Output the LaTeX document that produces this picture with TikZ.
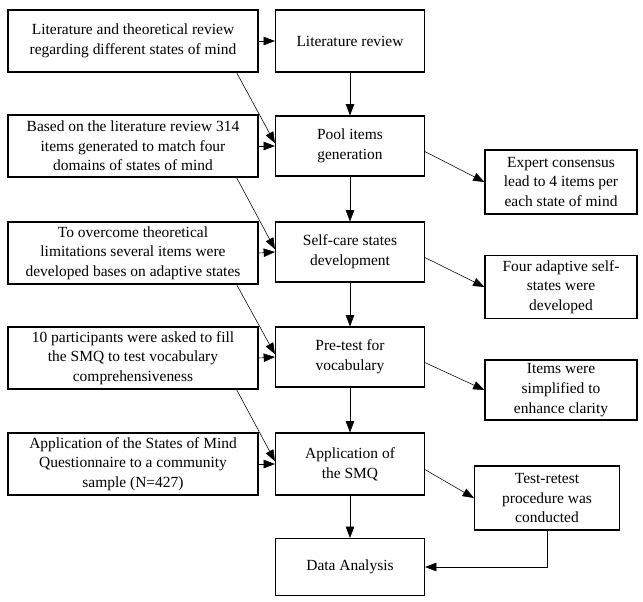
\documentclass[tikz,border=0pt]{standalone}
\usepackage{fontspec}
\setmainfont{Liberation Serif}
\usetikzlibrary{arrows.meta}
\begin{document}
\begin{tikzpicture}[x=0.025cm,y=-0.025cm]
        \tikzstyle{caixa}=[draw=black, thick, align=center, font=\fontsize{11}{14}\selectfont, inner sep=2pt]
        \tikzstyle{seta}=[-{Triangle[length=8pt,width=6pt]}, thin]

        \useasboundingbox (0,0) rectangle (643,601);

        % left column
        \node[caixa, minimum width=6.25cm, minimum height=1.55cm] (L1) at (133,41) {Literature and theoretical review\\regarding different states of mind};
        \node[caixa, minimum width=6.25cm, minimum height=1.55cm] (L2) at (133,146) {Based on the literature review 314\\items generated to match four\\domains of states of mind};
        \node[caixa, minimum width=6.25cm, minimum height=1.55cm] (L3) at (133,253) {To overcome theoretical\\limitations several items were\\developed bases on adaptive states};
        \node[caixa, minimum width=6.25cm, minimum height=1.55cm] (L4) at (133,358) {10 participants were asked to fill\\the SMQ to test vocabulary\\comprehensiveness};
        \node[caixa, minimum width=6.25cm, minimum height=1.55cm] (L5) at (133,464) {Application of the States of Mind\\Questionnaire to a community\\sample (N=427)};

        % middle column
        \node[caixa, minimum width=3.725cm, minimum height=1.55cm] (M1) at (350,41) {Literature review};
        \node[caixa, minimum width=3.725cm, minimum height=1.5cm] (M2) at (350,146) {Pool items\\generation};
        \node[caixa, minimum width=3.725cm, minimum height=1.5cm] (M3) at (350,252) {Self-care states\\development};
        \node[caixa, minimum width=3.725cm, minimum height=1.5cm] (M4) at (350,357) {Pre-test for\\vocabulary};
        \node[caixa, minimum width=3.725cm, minimum height=1.55cm] (M5) at (350,464) {Application of\\the SMQ};
        \node[caixa, minimum width=3.725cm, minimum height=1.425cm] (M6) at (350,567) {Data Analysis};

        % right column
        \node[caixa, minimum width=3.8cm, minimum height=1.6cm] (R1) at (561,182) {Expert consensus\\lead to 4 items per\\each state of mind};
        \node[caixa, minimum width=3.8cm, minimum height=1.575cm] (R2) at (561,287) {Four adaptive self-\\states were\\developed};
        \node[caixa, minimum width=3.8cm, minimum height=1.5cm] (R3) at (561,390) {Items were\\simplified to\\enhance clarity};
        \node[caixa, minimum width=3.625cm, minimum height=1.6cm] (R4) at (547,498) {Test-retest\\procedure was\\conducted};

        % arrows
        \foreach \i/\j in {1/2,2/3,3/4,4/5}{
          \draw[seta] (L\i.east) -- (M\i.west);
          \draw[seta] ([xshift=-0.55cm]L\i.south east) -- ([yshift=2pt]M\j.west);
          \draw[seta] (M\i.south) -- (M\j.north);
        }
        \draw[seta] (L5.east) -- (M5.west);
        \draw[seta] (M5.south) -- (M6.north);
        \foreach \i/\j in {2/1,3/2,4/3,5/4}{
          \draw[seta] ([yshift=-4pt]M\i.east) -- (R\j.west);
        }
        \draw[seta] (R4.south) |- (M6.east);
      \end{tikzpicture}
\end{document}
